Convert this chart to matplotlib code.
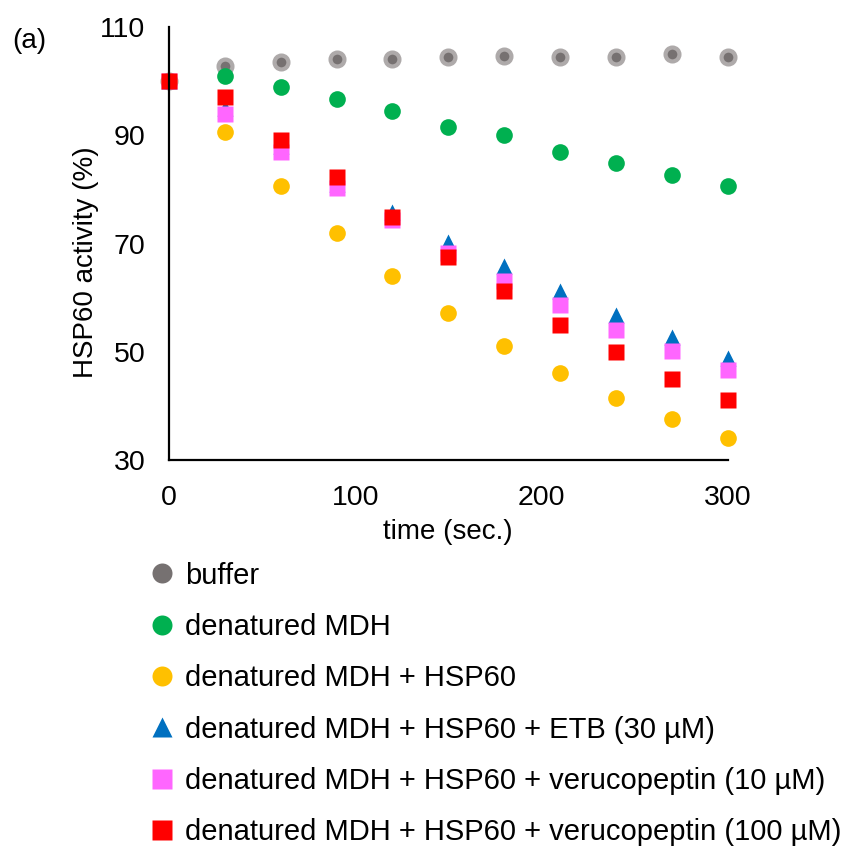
import matplotlib.pyplot as plt

plt.rcParams['font.family'] = ['Liberation Sans', 'DejaVu Sans']

# data
time_sec = [0, 30, 60, 90, 120, 150, 180, 210, 240, 270, 300]
buffer_act = [100, 102.9, 103.5, 104.1, 104.1, 104.4, 104.6, 104.4, 104.5, 105.1, 104.5]
mdh_act = [100, 101.0, 98.9, 96.7, 94.5, 91.5, 90.0, 86.9, 84.9, 82.6, 80.6]
hsp60_act = [100, 90.6, 80.6, 72.0, 64.0, 57.2, 51.1, 46.0, 41.4, 37.5, 34.1]
etb_act = [100, 95.0, 88.0, 81.0, 75.8, 70.2, 65.8, 61.2, 56.8, 52.7, 48.9]
veru10_act = [100, 94.0, 87.0, 80.2, 74.3, 68.2, 63.1, 58.7, 54.0, 50.1, 46.6]
veru100_act = [100, 97.0, 89.2, 82.3, 74.9, 67.5, 61.3, 55.0, 50.0, 45.0, 41.0]

labels = ["buffer",
          "denatured MDH",
          "denatured MDH + HSP60",
          "denatured MDH + HSP60 + ETB (30 µM)",
          "denatured MDH + HSP60 + verucopeptin (10 µM)",
          "denatured MDH + HSP60 + verucopeptin (100 µM)"]

fig = plt.figure(figsize=(8.49, 8.47), dpi=100)
ax = fig.add_axes([0.199, 0.457, 0.658, 0.511])

ms = 12
ax.plot(time_sec, buffer_act, 'o', ms=10, mfc='#767171', mec='#AEAAAA', mew=3, label=labels[0], clip_on=False)
ax.plot(time_sec, mdh_act, 'o', ms=ms, color='#00B050', mec='none', label=labels[1], clip_on=False)
ax.plot(time_sec, hsp60_act, 'o', ms=ms, color='#FFC000', mec='none', label=labels[2], clip_on=False)
ax.plot(time_sec, etb_act, '^', ms=ms, color='#0070C0', mec='none', label=labels[3], clip_on=False)
ax.plot(time_sec, veru10_act, 's', ms=ms, color='#FF66FF', mec='none', label=labels[4], clip_on=False)
ax.plot(time_sec, veru100_act, 's', ms=ms, color='#FF0000', mec='none', label=labels[5], clip_on=False)

ax.set_xlim(0, 300)
ax.set_ylim(30, 110)
ax.set_xticks([0, 100, 200, 300])
ax.set_yticks([30, 50, 70, 90, 110])
ax.tick_params(length=0, labelsize=20.5)
ax.tick_params(axis='x', pad=18)
ax.tick_params(axis='y', pad=17)
for s in ['top', 'right']:
    ax.spines[s].set_visible(False)
for s in ['left', 'bottom']:
    ax.spines[s].set_linewidth(1.6)
ax.set_xlabel("time (sec.)", fontsize=20, labelpad=6)
ax.set_ylabel("HSP60 activity (%)", fontsize=20)
ax.yaxis.set_label_coords(-0.125, 0.457)

fig.text(0.014, 0.952, "(a)", fontsize=20, va='center')

# legend without the gray ring
handles, _ = ax.get_legend_handles_labels()
leg = fig.legend(handles, labels, loc='upper left', bbox_to_anchor=(0.18, 0.337),
                 frameon=False, fontsize=21, borderpad=0, borderaxespad=0,
                 handlelength=0.6, handletextpad=0.5, labelspacing=0.8, markerscale=1.2)
leg.legend_handles[0].set_markeredgecolor('#767171')
leg.legend_handles[0].set_markersize(14.4)
leg.legend_handles[0].set_markeredgewidth(0)

fig.savefig("out.png", dpi=100)
